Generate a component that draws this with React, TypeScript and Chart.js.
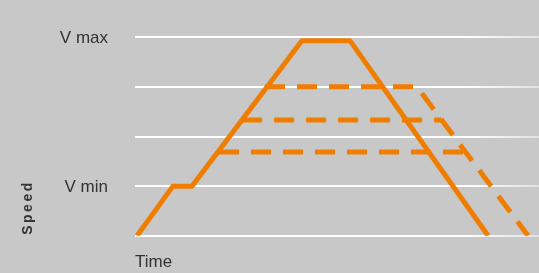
import React, { useEffect, useRef } from 'react';
import { Chart, registerables } from 'chart.js';

Chart.register(...registerables);

// Data (time units 0..100, speed units 0..4)
const solidX = [0.5, 9.4, 14.1, 41.3, 53.2, 87.4];
const solidY = [0, 1, 1, 3.93, 3.93, 0];
const dashHighX = [32.2, 69.8, 97.3];
const dashHighY = [3, 3, 0];
const dashMidX = [26.5, 75.8];
const dashMidY = [2.33, 2.33];
const dashLowX = [20.8, 81.7];
const dashLowY = [1.69, 1.69];
const yTickLabels = ['', 'V min', '', '', 'V max'];
const xTitle = 'Time';
const yTitle = 'Speed';

const ORANGE = '#ef7d00';
const TEXT = '#333333';
const BG = '#c8c8c8';

const zip = (xs: number[], ys: number[]) => xs.map((x, i) => ({ x, y: ys[i] }));

const speedTitlePlugin = {
  id: 'speedTitle',
  afterDraw(chart: any) {
    const { ctx, chartArea } = chart;
    ctx.save();
    ctx.font = 'bold 14px "Liberation Sans", Arial, sans-serif';
    ctx.fillStyle = TEXT;
    (ctx as any).letterSpacing = '2.5px';
    ctx.translate(28, chartArea.bottom - 1);
    ctx.rotate(-Math.PI / 2);
    ctx.textAlign = 'left';
    ctx.textBaseline = 'middle';
    ctx.fillText(yTitle, 0, 0);
    ctx.restore();
  },
};

export default function App() {
  const ref = useRef<HTMLCanvasElement | null>(null);

  useEffect(() => {
    if (!ref.current) return;
    const lineCommon = {
      borderColor: ORANGE,
      backgroundColor: ORANGE,
      borderWidth: 5,
      pointRadius: 0,
      fill: false,
      tension: 0,
      borderJoinStyle: 'round' as const,
      borderCapStyle: 'butt' as const,
    };
    const gridColor = (c: any) => {
      const chart = c.chart;
      const area = chart.chartArea;
      if (!area) return '#ffffff';
      const g = chart.ctx.createLinearGradient(area.left, 0, area.right, 0);
      g.addColorStop(0, '#ffffff');
      g.addColorStop(0.82, '#ffffff');
      g.addColorStop(1, 'rgba(255,255,255,0.45)');
      return g;
    };
    const chart = new Chart(ref.current, {
      type: 'line',
      data: {
        datasets: [
          { ...lineCommon, data: zip(dashLowX, dashLowY), borderDash: [20, 12] },
          { ...lineCommon, data: zip(dashMidX, dashMidY), borderDash: [20, 12] },
          { ...lineCommon, data: zip(dashHighX, dashHighY), borderDash: [20, 12] },
          { ...lineCommon, data: zip(solidX, solidY) },
        ],
      },
      options: {
        animation: false,
        responsive: false,
        maintainAspectRatio: false,
        layout: { padding: { top: 36.5, right: 0, left: 0, bottom: 0 } },
        plugins: { legend: { display: false }, tooltip: { enabled: false } },
        scales: {
          x: {
            type: 'linear',
            min: 0,
            max: 100,
            grid: { display: false },
            border: { display: false },
            ticks: { display: false },
            title: {
              display: true,
              text: xTitle,
              align: 'start',
              color: TEXT,
              font: { family: '"Liberation Sans", Arial, sans-serif', size: 17 },
              padding: 0,
            },
            afterFit: (s: any) => {
              s.height = 37;
            },
          },
          y: {
            type: 'linear',
            min: 0,
            max: 4,
            grid: { color: gridColor, lineWidth: 2, drawTicks: false },
            border: { display: false },
            ticks: {
              stepSize: 1,
              padding: 27,
              labelOffset: 1.5,
              color: TEXT,
              font: { family: '"Liberation Sans", Arial, sans-serif', size: 17 },
              callback: (v: any) => yTickLabels[Math.round(Number(v))] ?? '',
            },
            afterFit: (s: any) => {
              s.width = 135;
            },
          },
        },
      },
      plugins: [speedTitlePlugin],
    });
    return () => chart.destroy();
  }, []);

  return (
    <div style={{ position: 'fixed', left: 0, top: 0, width: 539, height: 273, background: BG }}>
      <canvas ref={ref} width={539} height={273} style={{ display: 'block' }} />
    </div>
  );
}
